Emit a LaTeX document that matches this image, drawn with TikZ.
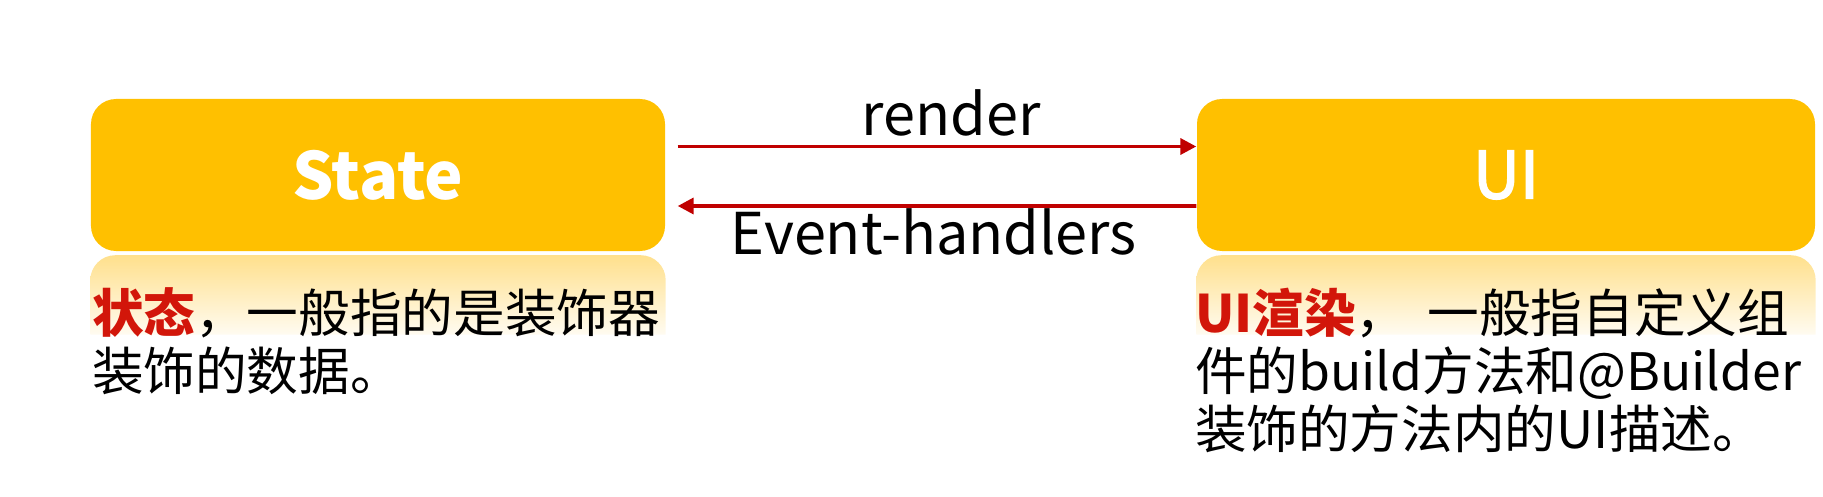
\documentclass[tikz,border=0pt]{standalone}
\usepackage{fontspec}
\setmainfont{Noto Sans CJK SC}
\newfontfamily\uifont[FakeBold=2.5]{Noto Sans CJK SC}
\usepackage{xcolor}
\usetikzlibrary{arrows.meta,positioning}
\definecolor{gold}{RGB}{255,192,0}
\definecolor{glow}{RGB}{255,224,140}
\definecolor{flowred}{RGB}{192,0,0}
\definecolor{keyred}{RGB}{210,22,10}

\tikzset{
  box/.style={fill=gold,rounded corners=0.25cm,minimum height=1.52cm,inner sep=0pt,
    text=white,font=\fontsize{18.5}{22}\selectfont},
  flow/.style={flowred,line width=1pt,-{Triangle[length=4.5pt,width=4.5pt]}},
  flowlbl/.style={text=black,font=\fontsize{16.4}{19}\selectfont},
  note/.style={anchor=base west,inner sep=0pt,align=left,text width=6.4cm,
    font=\fontsize{14.7}{16.5}\selectfont},
}

\begin{document}
\begin{tikzpicture}
  \useasboundingbox (0,0) rectangle (18.23,4.96);

  % the two boxes
  \node[box,minimum width=5.74cm] (state) at (3.78,3.21) {\bfseries State};
  \node[box,minimum width=6.18cm] (ui) at (15.06,3.21) {\uifont UI};

  % reflections under the boxes
  \foreach \b in {state,ui}{
    \shade[top color=glow,bottom color=glow!12]
      ([yshift=-0.83cm]\b.south west) [rounded corners=0.25cm]
      -- ([yshift=-0.035cm]\b.south west) -- ([yshift=-0.035cm]\b.south east)
      [sharp corners] -- ([yshift=-0.83cm]\b.south east) -- cycle;
  }

  % render / event handlers
  \draw[flow] ([shift={(0.12,0.285)}]state.east) -- ([yshift=0.285cm]ui.west)
    node[flowlbl,above,inner sep=2.5pt,pos=0.527] (render) {render};
  \draw[flow] ([yshift=-0.31cm]ui.west) -- ([shift={(0.12,-0.31)}]state.east)
    node[flowlbl,below,inner sep=0.3pt,pos=0.506] (events) {Event-handlers};

  % descriptions
  \node[note] (statenote) at ([shift={(0.01,-0.81)}]state.south west)
    {{\bfseries\color{keyred}状态}，一般指的是装饰器\\装饰的数据。};
  \node[note] (uinote) at ([shift={(-0.02,-0.81)}]ui.south west)
    {{\bfseries\color{keyred}UI渲染}，\hspace{0.2cm}一般指自定义组\\件的build方法和@Builder\\装饰的方法内的UI描述。};
\end{tikzpicture}
\end{document}
